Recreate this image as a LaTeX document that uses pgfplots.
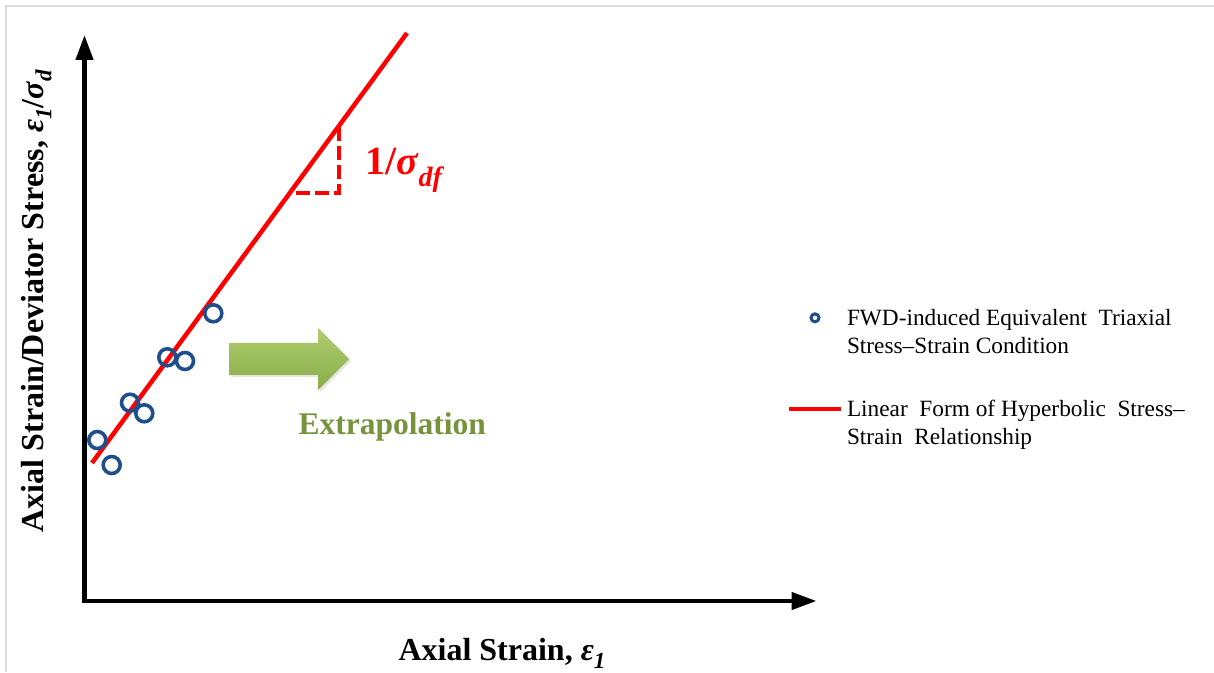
\documentclass[border=0pt]{standalone}
\usepackage{fontspec}
\setmainfont{Liberation Serif}
\usepackage{pgfplots}
\pgfplotsset{compat=1.18}
\usetikzlibrary{arrows.meta}
\definecolor{ptblue}{RGB}{31,78,140}
\definecolor{arrgreenT}{RGB}{176,206,112}
\definecolor{arrgreenB}{RGB}{136,172,72}
\definecolor{txtgreen}{RGB}{119,147,60}
\definecolor{framegray}{RGB}{220,220,220}
\pgfplotsset{
  circleg/.style={legend image code/.code={\draw[##1, mark size=4pt, line width=3pt] plot coordinates {(26pt,14pt)};}},
  lineleg/.style={legend image code/.code={\draw[##1, line width=4pt] (0pt,14pt) -- (52pt,14pt);}},
}
\begin{document}
\begin{tikzpicture}
\draw[framegray, line width=2pt] (6pt,0pt) -- (6pt,666pt) -- (1214pt,666pt);
\begin{axis}[
  at={(84.5pt,71pt)}, anchor=south west,
  scale only axis, width=732pt, height=566pt,
  xmin=0, xmax=732, ymin=0, ymax=566,
  axis lines=left, xtick=\empty, ytick=\empty, clip=false,
  axis line style={line width=4.5pt, line cap=rect, -{Triangle[length=25pt,width=17pt]}},
  xlabel={Axial Strain, \textit{ε}\raisebox{-0.25em}{\fontsize{23}{23}\selectfont\itshape 1}},
  ylabel={Axial Strain/Deviator Stress, \textit{ε}\raisebox{-0.25em}{\fontsize{23}{23}\selectfont\itshape 1}/\textit{σ}\raisebox{-0.25em}{\fontsize{23}{23}\selectfont\itshape d}},
  xlabel style={at={(axis cs:417.5,-59)}, anchor=base, font=\fontsize{32}{36}\selectfont\bfseries},
  ylabel style={at={(axis cs:-41,300)}, anchor=base, font=\fontsize{32}{36}\selectfont\bfseries},
  legend style={draw=none, fill=none, at={(axis cs:702.5,292)}, anchor=north west,
    inner sep=0pt, outer sep=0pt, row sep=45pt, column sep=4pt,
    nodes={inner sep=0pt}, font=\fontsize{23.3}{28}\selectfont, cells={align=left}},
  legend cell align=left,
]
\addplot[only marks, mark=o, mark size=8.5pt, line width=3.6pt, color=ptblue, circleg]
  coordinates {(12.8,161) (27.2,136) (45.5,198.3) (59.8,187.7) (82.8,243.7) (100.5,240) (128.8,287.7)};
\addlegendentry{FWD-induced Equivalent\ \ Triaxial\\Stress–Strain Condition}
\addplot[red, line width=4.5pt, lineleg]
  coordinates {(7.5,138) (322.5,568)};
\addlegendentry{Linear\ \ Form of Hyperbolic\ \ Stress–\\Strain\ \ Relationship}
\addplot[red, line width=4pt, dash pattern=on 14pt off 5pt, forget plot]
  coordinates {(254.5,474) (254.5,408) (208,408)};
\fill[black, opacity=0.1] (axis cs:146.5,256) -- (axis cs:235.5,256) -- (axis cs:235.5,271) -- (axis cs:266.5,240) -- (axis cs:235.5,209) -- (axis cs:235.5,224) -- (axis cs:146.5,224) -- cycle;
\shade[top color=arrgreenT, bottom color=arrgreenB] (axis cs:144.5,258) -- (axis cs:233.5,258) -- (axis cs:233.5,273) -- (axis cs:264.5,242) -- (axis cs:233.5,211) -- (axis cs:233.5,226) -- (axis cs:144.5,226) -- cycle;
\node[anchor=base west, text=txtgreen, font=\fontsize{31.5}{36}\selectfont\bfseries] at (axis cs:210.5,167) {Extrapolation};
\node[anchor=base west, text=red, font=\fontsize{40}{42}\selectfont\bfseries] at (axis cs:277,426) {1/\textit{σ}\raisebox{-0.28em}{\fontsize{28}{28}\selectfont\itshape df}};
\end{axis}
\pgfresetboundingbox
\useasboundingbox (0pt,0pt) rectangle (1214pt,672pt);
\end{tikzpicture}
\end{document}
